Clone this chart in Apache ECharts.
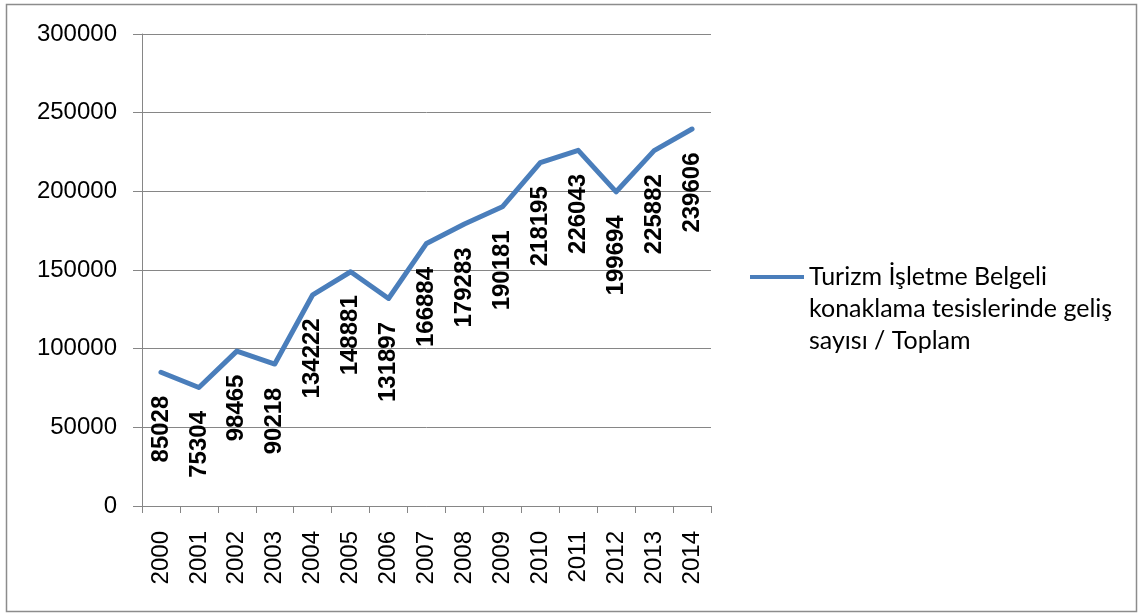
<!DOCTYPE html>
<html>
<head>
<meta charset="utf-8">
<script src="https://cdn.jsdelivr.net/npm/echarts@6/dist/echarts.min.js"></script>
<style>
html,body{margin:0;padding:0;background:#fff;}
#chart{width:1139px;height:613px;}
</style>
</head>
<body>
<div id="chart"></div>
<script>
var years = ['2000','2001','2002','2003','2004','2005','2006','2007','2008','2009','2010','2011','2012','2013','2014'];
var values = [85028, 75304, 98465, 90218, 134222, 148881, 131897, 166884, 179283, 190181, 218195, 226043, 199694, 225882, 239606];
var seriesName = 'Turizm İşletme Belgeli\nkonaklama tesislerinde geliş\nsayısı / Toplam';
var yMin = 0, yMax = 300000, yStep = 50000;

var chart = echarts.init(document.getElementById('chart'), null, {renderer: 'canvas'});
var axisGray = '#868686';
var lineBlue = '#4a7ebb';
chart.setOption({
  animation: false,
  backgroundColor: '#fff',
  grid: {left: 142, right: 428, top: 34, bottom: 107, containLabel: false},
  legend: {
    show: true,
    left: 745,
    top: 192,
    orient: 'vertical',
    itemWidth: 54,
    itemHeight: 4,
    itemGap: 0,
    icon: 'rect',
    itemStyle: {color: lineBlue},
    data: [{name: seriesName, icon: 'rect', itemStyle: {color: lineBlue}}],
    formatter: function (name) { return '\n\n' + name; },
    textStyle: {
      fontFamily: 'Lato',
      fontSize: 25,
      color: '#000',
      lineHeight: 32
    }
  },
  xAxis: {
    type: 'category',
    data: years,
    boundaryGap: true,
    axisLine: {lineStyle: {color: axisGray, width: 1}},
    axisTick: {show: true, length: 7, interval: 0, lineStyle: {color: axisGray}},
    axisLabel: {
      rotate: 90, interval: 0, margin: 25,
      fontFamily: 'Liberation Sans', fontSize: 24, color: '#000'
    },
    splitLine: {show: false}
  },
  yAxis: {
    type: 'value',
    min: yMin, max: yMax, interval: yStep,
    axisLine: {show: true, lineStyle: {color: axisGray, width: 1}},
    axisTick: {show: true, length: 9, lineStyle: {color: axisGray}},
    axisLabel: {
      margin: 25, fontFamily: 'Liberation Sans', fontSize: 24, color: '#000',
      formatter: function (v) { return String(v); }
    },
    splitLine: {show: true, lineStyle: {color: axisGray, width: 1}}
  },
  series: [{
    name: seriesName,
    type: 'line',
    data: values,
    symbol: 'circle',
    symbolSize: 1,
    showSymbol: true,
    lineStyle: {color: lineBlue, width: 5, join: 'round', cap: 'round'},
    itemStyle: {color: 'rgba(74,126,187,0)', borderWidth: 0},
    label: {
      show: true,
      position: 'bottom',
      distance: 23,
      rotate: 90,
      align: 'right',
      verticalAlign: 'middle',
      fontFamily: 'Liberation Sans',
      fontWeight: 'bold',
      fontSize: 24,
      color: '#000'
    }
  }],
  graphic: [{
    type: 'rect',
    shape: {x: 6.5, y: 4.5, width: 1130, height: 607},
    style: {fill: 'none', stroke: '#8c8c8c', lineWidth: 1.5},
    silent: true,
    z: 100
  }]
});
</script>
</body>
</html>
